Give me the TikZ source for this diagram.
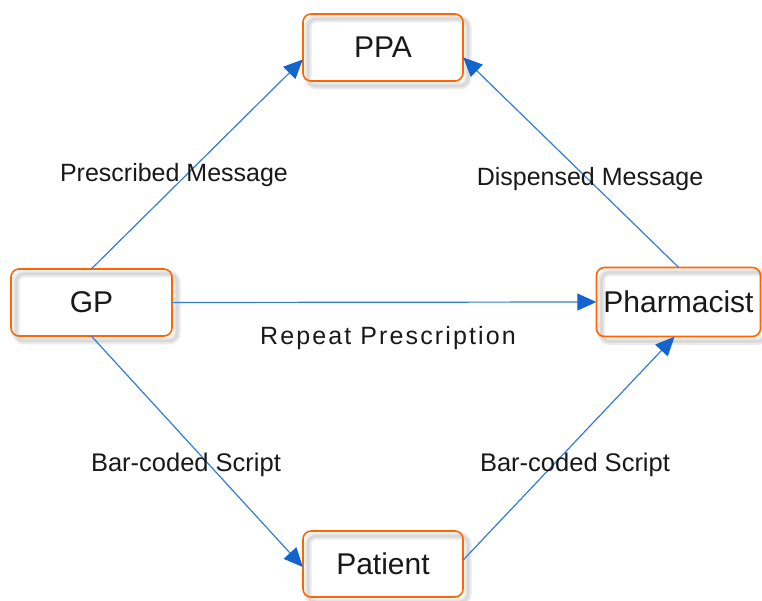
\documentclass[tikz,border=0pt]{standalone}
\usepackage{fontspec}
\setmainfont{Liberation Sans}
\usetikzlibrary{arrows.meta}
\definecolor{boxorange}{RGB}{255,102,0}
\definecolor{linkblue}{RGB}{50,125,215}
\definecolor{tipblue}{RGB}{20,100,205}
\definecolor{txtgray}{RGB}{25,25,25}
\begin{document}
\begin{tikzpicture}[x=1pt,y=1pt,
  entity/.style={rectangle, rounded corners=8pt, fill=white, minimum height=67pt, inner sep=0pt,
     font=\fontsize{30}{36}\selectfont, text=txtgray,
     postaction={draw=gray!16, line width=7pt, transform canvas={xshift=5pt,yshift=-5pt}},
     postaction={draw=gray!30, line width=3pt, transform canvas={xshift=5pt,yshift=-5pt}},
     postaction={draw=boxorange, line width=1.6pt}},
  link/.style={draw=linkblue, line width=1.2pt, -{Triangle[length=19pt,width=17pt,color=tipblue]}},
  lab/.style={font=\fontsize{25}{30}\selectfont, text=txtgray, anchor=base, inner sep=0pt}]
\useasboundingbox (0,0) rectangle (762,600);
\fill[white] (0,0) rectangle (762,600);
\node[entity, minimum width=160pt] (ppa) at (383,552.5) {PPA};
\node[entity, minimum width=161pt] (gp) at (91.5,297.5) {GP};
\node[entity, minimum width=164pt, minimum height=69pt] (ph) at (678.5,298) {Pharmacist};
\node[entity, minimum width=160pt, minimum height=66pt] (pt) at (383,36) {Patient};
\draw[link] (gp.north) -- ([yshift=-12pt]ppa.west);
\draw[link] (ph.north) -- ([yshift=-10pt]ppa.east);
\draw[link] (gp.east) -- (ph.west);
\draw[link] (gp.south) -- ([yshift=-3pt]pt.west);
\draw[link] ([yshift=4pt]pt.east) -- ([xshift=-4pt]ph.south);
\node[lab] (l1) at (174,418) {Prescribed Message};
\node[lab] (l2) at (590,414) {Dispensed Message};
\node[lab, font=\fontsize{25}{30}\selectfont\addfontfeature{LetterSpace=8.5}] (l3) at (388,255) {Repeat Prescription};
\node[lab, font=\fontsize{25.5}{30}\selectfont] (l4) at (186,129) {Bar-coded Script};
\node[lab, font=\fontsize{25.5}{30}\selectfont] (l5) at (575,129) {Bar-coded Script};
\end{tikzpicture}
\end{document}
